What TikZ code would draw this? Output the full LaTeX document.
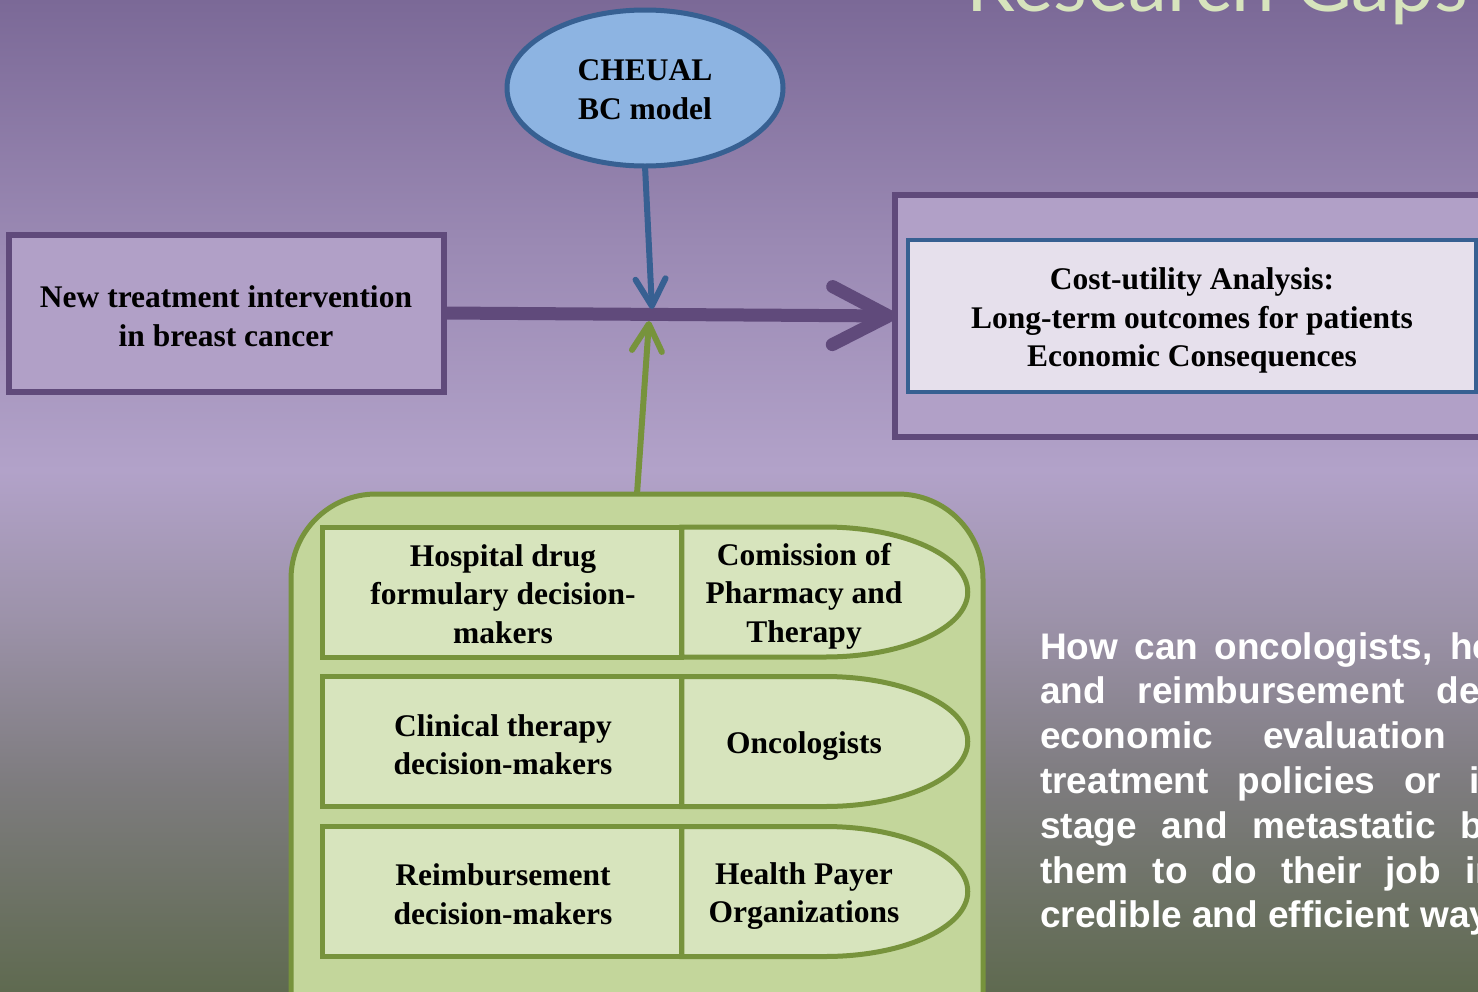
\documentclass[tikz,border=0pt]{standalone}
\usepackage{fontspec}
\setmainfont{Liberation Serif}
\newfontfamily\questionfont{Liberation Sans}
\newfontfamily\titlefont{Lato}
\usetikzlibrary{shapes.geometric,arrows.meta}

\definecolor{bgTop}{HTML}{7B6997}
\definecolor{bgMid}{HTML}{9A89B3}
\definecolor{bgLight}{HTML}{B2A2C9}
\definecolor{bgGrey}{HTML}{9C92A9}
\definecolor{bgDusk}{HTML}{7E7C7F}
\definecolor{bgBottom}{HTML}{5F6A50}
\definecolor{plum}{HTML}{604A7B}
\definecolor{lilac}{HTML}{B1A0C7}
\definecolor{paleLilac}{HTML}{E6E0EC}
\definecolor{steel}{HTML}{376092}
\definecolor{sky}{HTML}{8DB4E2}
\definecolor{olive}{HTML}{77933C}
\definecolor{leaf}{HTML}{C3D69B}
\definecolor{paleLeaf}{HTML}{D7E4BD}

\tikzset{
  boxtext/.style={font=\bfseries\fontsize{31.5}{38.5}\selectfont, align=center, text=black},
  plumbox/.style={rectangle, draw=plum, line width=6pt, fill=lilac, outer sep=0pt, boxtext},
  innerbox/.style={rectangle, draw=steel, line width=4pt, fill=paleLilac, outer sep=0pt},
  model/.style={ellipse, draw=steel, line width=5pt, fill=sky, outer sep=0pt, inner sep=0pt},
  group/.style={rectangle, rounded corners=85pt, draw=olive, line width=5pt, fill=leaf, outer sep=0pt},
  cell/.style={draw=olive, line width=5pt, fill=paleLeaf},
  cellbox/.style={rectangle, cell, outer sep=0pt, inner sep=0pt, minimum width=359.5pt, minimum height=130pt, boxtext},
  celltext/.style={boxtext, inner sep=0pt},
  flow/.style={draw=plum, line width=13pt, -{Straight Barb[round,length=56pt,width=58pt]}},
  modelarrow/.style={draw=steel, line width=6pt, -{Straight Barb[round,length=27pt,width=30pt]}},
  stakearrow/.style={draw=olive, line width=6pt, -{Straight Barb[round,length=27pt,width=30pt]}},
  qline/.style={anchor=base west, inner sep=0pt, text=white, font=\questionfont\bfseries\fontsize{37}{45}\selectfont},
}

\begin{document}
\begin{tikzpicture}[x=1pt, y=-1pt]
\useasboundingbox (0,0) rectangle (1478,991);
\clip (0,0) rectangle (1478,991);

% background gradient, purple at the top fading to olive grey
\fill[top color=bgTop, bottom color=bgMid] (0,0) rectangle (1478,241);
\fill[top color=bgMid, bottom color=bgLight] (0,240) rectangle (1478,471);
\fill[top color=bgLight, bottom color=bgGrey] (0,470) rectangle (1478,621);
\fill[top color=bgGrey, bottom color=bgDusk] (0,620) rectangle (1478,781);
\fill[top color=bgDusk, bottom color=bgBottom] (0,780) rectangle (1478,991);

% heading
\node[anchor=base west, inner sep=0pt, text=paleLeaf, font=\titlefont\fontsize{78}{82}\selectfont] (title) at (966,11) {Research Gaps};

% model and the treatment flow
\node[model, minimum width=276pt, minimum height=156pt] (cheual) at (645,88) {};
\node[celltext] (cheualtext) at (645,89.5) {CHEUAL\\BC model};
\node[plumbox, minimum width=435pt, minimum height=157pt] (newtx) at (226,313) {};
\node[celltext] (newtxtext) at (226,316) {New treatment intervention\\in breast cancer};
\node[plumbox, minimum width=805pt, minimum height=242pt] (outcome) at (1297.5,316) {};
\node[innerbox, minimum width=568pt, minimum height=152pt] (cua) at (1192,316) {};
\node[celltext] (cuatext) at (1192,320.5) {Cost-utility Analysis:\\Long-term outcomes for patients\\Economic Consequences};

% stakeholder panel
\node[group, minimum width=692pt, minimum height=620pt] (panel) at (637,804) {};

\node[cellbox] (hosp) at (502,592) {};
\node[celltext] (hosptext) at (503,594) {Hospital drug\\formulary decision-\\makers};
\draw[cell] (hosp.north east) -- ++(143,0) arc[start angle=-90, end angle=90, x radius=143, y radius=65] -- (hosp.south east) -- cycle;
\node[celltext] (cpt) at (804,596) {Comission of\\Pharmacy and\\Therapy};

\node[cellbox] (clin) at (502,741.5) {};
\node[celltext] (clintext) at (503,744.5) {Clinical therapy\\decision-makers};
\draw[cell] (clin.north east) -- ++(143,0) arc[start angle=-90, end angle=90, x radius=143, y radius=65] -- (clin.south east) -- cycle;
\node[celltext] (onc) at (804,746) {Oncologists};

\node[cellbox] (reimb) at (502,891.5) {};
\node[celltext] (reimbtext) at (503,894) {Reimbursement\\decision-makers};
\draw[cell] (reimb.north east) -- ++(143,0) arc[start angle=-90, end angle=90, x radius=143, y radius=65] -- (reimb.south east) -- cycle;
\node[celltext] (hpo) at (804,896) {Health Payer\\Organizations};

% connectors
\coordinate (modeltip) at (652,309);
\coordinate (staketip) at (649,321);
\draw[flow] (newtx.east) -- (outcome.west);
\draw[modelarrow] (cheual.south) -- (modeltip);
\draw[stakearrow] (panel.north) -- (staketip);

% research question
\node[qline] (q1) at (1040,659) {\makebox[453pt][s]{How can oncologists, he}};
\node[qline] (q2) at (1040,703.8) {\makebox[440pt][s]{and reimbursement de}};
\node[qline] (q3) at (1040,748.6) {\makebox[406pt][s]{economic evaluation}};
\node[qline] (q4) at (1040,793.4) {\makebox[440pt][s]{treatment policies or i}};
\node[qline] (q5) at (1040,838.2) {\makebox[443pt][s]{stage and metastatic b}};
\node[qline] (q6) at (1040,883) {\makebox[458pt][s]{them to do their job in}};
\node[qline] (q7) at (1040,927.8) {credible and efficient way};
\end{tikzpicture}
\end{document}
